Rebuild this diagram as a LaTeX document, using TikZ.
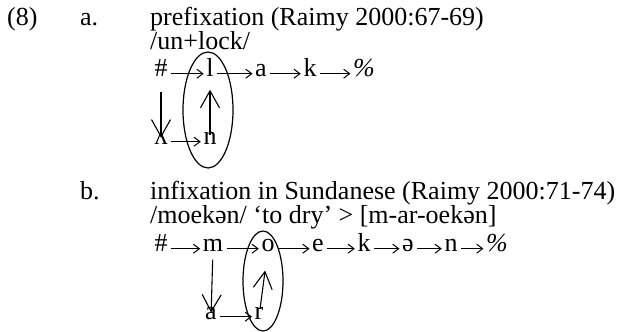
\documentclass[tikz,border=0pt]{standalone}
\usepackage{fontspec}
\setmainfont{Liberation Serif}
\usetikzlibrary{arrows.meta, shapes.geometric}

\tikzset{
  txt/.style={anchor=base west, inner sep=0pt, font=\fontsize{26}{22}\selectfont},
  seg/.style={anchor=base, inner xsep=2.5pt, inner ysep=1.5pt, text height=1ex,
    text depth=0pt, font=\fontsize{26}{22}\selectfont},
  grp/.style={ellipse, draw, line width=1.2pt, inner sep=0pt},
  arr/.style={-{Straight Barb[length=6pt, width=9pt]}, line width=1pt, shorten <=1pt},
  varr/.style={-{Straight Barb[length=17pt, width=19pt]}, line width=1.1pt},
}

\begin{document}
\begin{tikzpicture}[x=1pt, y=-1pt]
  \useasboundingbox (0,0) rectangle (625,332);

  % Example number and headings
  \node[txt] (num)   at (7,25)   {(8)};
  \node[txt] (labA)  at (80,25)  {a.};
  \node[txt] (headA) at (150,25) {prefixation (Raimy 2000:67-69)};
  \node[txt] (formA) at (150,49.5) {/un+lock/};

  % (a) graph
  \node[grp, minimum width=50, minimum height=116] (ellA) at (208,110) {};
  \node[seg] (hashA) at (161,76)  {\#};
  \node[seg] (lA)    at (210,76)  {l};
  \node[seg] (aA)    at (261,76)  {a};
  \node[seg] (kA)    at (310,76)  {k};
  \node[seg] (pctA)  at (364,76)  {\textit{\%}};
  \node[seg] (lamA)  at (161,144) {ʌ};
  \node[seg] (nA)    at (210,144) {n};

  \draw[arr] (hashA) -- (lA);
  \draw[arr] (lA) -- (aA);
  \draw[arr] (aA) -- (kA);
  \draw[arr] (kA) -- (pctA);
  \draw[arr] (lamA) -- (nA);
  \draw[varr, shorten <=14pt] (hashA) -- (lamA);
  \draw[varr, shorten <=3pt, shorten >=12pt] (nA) -- (lA);

  % (b) headings
  \node[txt] (labB)  at (80,199)  {b.};
  \node[txt] (headB) at (150,199) {infixation in Sundanese (Raimy 2000:71-74)};
  \node[txt] (formB) at (150,223.5) {/moekən/ ‘to dry’ > [m-ar-oekən]};

  % (b) graph
  \node[grp, minimum width=40, minimum height=100] (ellB) at (263,281) {};
  \node[seg] (hashB)  at (161,251) {\#};
  \node[seg] (mB)     at (213,251) {m};
  \node[seg] (oB)     at (268,251) {o};
  \node[seg] (eB)     at (318,251) {e};
  \node[seg] (kB)     at (364,251) {k};
  \node[seg] (schwaB) at (408,251) {ə};
  \node[seg] (nB)     at (451,251) {n};
  \node[seg] (pctB)   at (497,251) {\textit{\%}};
  \node[seg] (aB)     at (211,319) {a};
  \node[seg] (rB)     at (259,319) {r};

  \draw[arr] (hashB) -- (mB);
  \draw[arr] (mB) -- (oB);
  \draw[arr] (oB) -- (eB);
  \draw[arr] (eB) -- (kB);
  \draw[arr] (kB) -- (schwaB);
  \draw[arr] (schwaB) -- (nB);
  \draw[arr] (nB) -- (pctB);
  \draw[arr] (aB) -- (rB);
  \draw[varr, shorten <=7pt] (mB) -- (aB);
  \draw[varr, shorten <=4pt, shorten >=18pt] (rB) -- (oB);
\end{tikzpicture}
\end{document}
